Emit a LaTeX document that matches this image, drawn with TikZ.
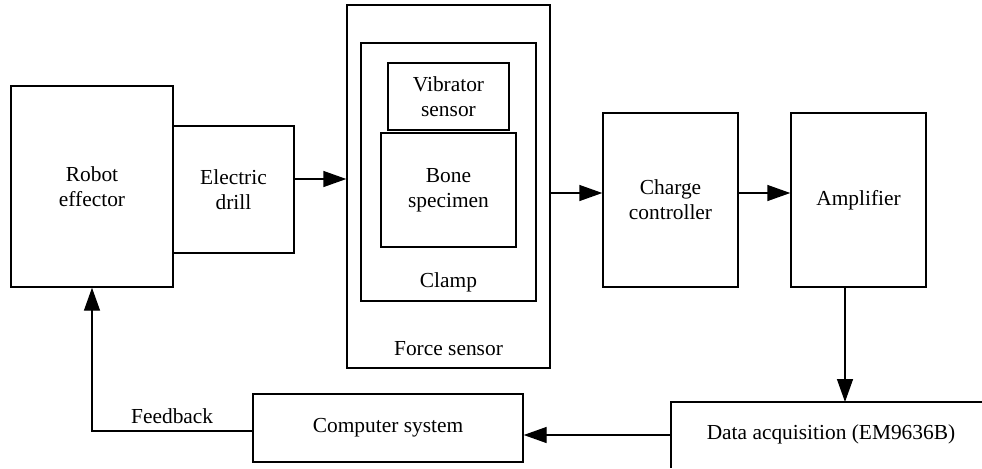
\documentclass[tikz,border=0pt]{standalone}
\usepackage{fontspec}
\setmainfont{Liberation Serif}
\usetikzlibrary{arrows.meta,calc}

\begin{document}
\begin{tikzpicture}[x=0.5pt,y=-0.5pt]
	\tikzstyle{box} = [draw, line width=0.7pt, align=center, inner sep=0pt, font=\fontsize{10.7}{12.5}\selectfont]
	\tikzstyle{lbl} = [align=center, font=\fontsize{10.7}{12.5}\selectfont]
	\tikzstyle{arr} = [line width=0.7pt, -{Triangle[length=11.5pt,width=8pt]}]
	\useasboundingbox (0,0) rectangle (982,468);
	\node[box, minimum width=81pt, minimum height=100.5pt] (robot) at (92,186.5) {Robot\\effector};
	\node[box, minimum width=60.5pt, minimum height=63.5pt] (drill) at (233.5,189.5) {Electric\\drill};
	\node[box, minimum width=101.5pt, minimum height=181.5pt] (force) at (448.5,186.5) {};
	\node[lbl] (forcelbl) at (448.5,349) {Force sensor};
	\node[box, minimum width=87.5pt, minimum height=129pt] (clamp) at (448.5,172) {};
	\node[lbl] (clamplbl) at (448.5,282) {Clamp};
	\node[box, minimum width=60.5pt, minimum height=33.5pt] (vib) at (448.5,96.5) {Vibrator\\sensor};
	\node[box, minimum width=67.5pt, minimum height=57pt] (bone) at (448.5,190) {Bone\\specimen};
	\node[box, minimum width=67.5pt, minimum height=87pt] (charge) at (670.5,200) {Charge\\controller};
	\node[box, minimum width=67.5pt, minimum height=87pt] (amp) at (858.5,200) {Amplifier};
	\node[box, minimum width=135pt, minimum height=34pt] (comp) at (388,428) {Computer system};
	% data acquisition box runs off the page
	\coordinate (daqnw) at (671,402);
	\draw[line width=0.7pt] (982,402) -- (daqnw) -- (671,468);
	\node[lbl] (daq) at (831,434) {Data acquisition (EM9636B)};

	\coordinate (c0) at ([yshift=5.25pt]drill.east);
	\draw[arr] (c0) -- (c0 -| force.west);
	\coordinate (c1) at ([yshift=3.5pt]charge.west);
	\draw[arr] (c1 -| force.east) -- (c1);
	\draw[arr] (c1 -| charge.east) -- (c1 -| amp.west);
	\coordinate (c2) at ([xshift=-6.75pt]amp.south);
	\draw[arr] (c2) -- (c2 |- daqnw);
	\coordinate (c3) at (671,435);
	\draw[arr] (c3) -- (c3 -| comp.east);
	\coordinate (c4) at ([yshift=-1.5pt]comp.west);
	\draw[arr] (c4) -| node[lbl, above, pos=0.25] {Feedback} (robot.south);
\end{tikzpicture}
\end{document}
